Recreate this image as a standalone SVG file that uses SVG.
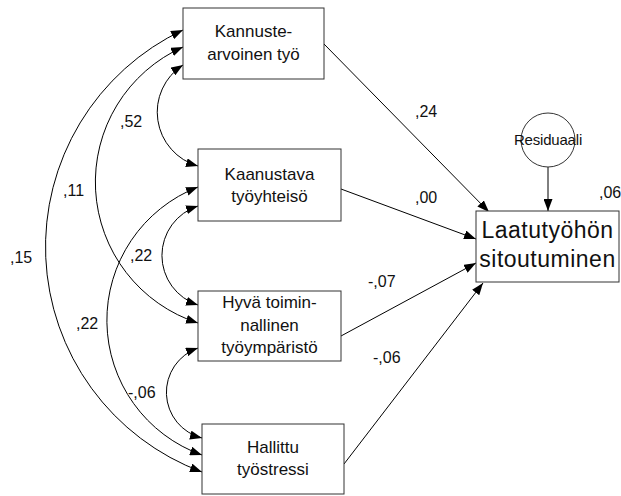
<svg xmlns="http://www.w3.org/2000/svg" width="621" height="496" viewBox="0 0 621 496">
<defs>
<marker id="ah" markerUnits="userSpaceOnUse" markerWidth="13" markerHeight="9" refX="12" refY="4.5" orient="auto-start-reverse">
<path d="M0,0 L12,4.5 L0,9 z" fill="#000"/>
</marker>
<style>
.box{fill:#fff;stroke:#333;stroke-width:1}
.t{font-family:"Liberation Sans",Arial,sans-serif;font-size:17px;fill:#111;text-anchor:middle}
.big{font-family:"Liberation Sans",Arial,sans-serif;font-size:23px;fill:#111;text-anchor:middle;letter-spacing:0.5px}
.lab{font-family:"Liberation Sans",Arial,sans-serif;font-size:16px;fill:#111}
.res{font-family:"Liberation Sans",Arial,sans-serif;font-size:15px;fill:#111;text-anchor:middle;letter-spacing:-0.2px}
.c{fill:none;stroke:#000;stroke-width:1;marker-start:url(#ah);marker-end:url(#ah)}
.s{fill:none;stroke:#000;stroke-width:1;marker-end:url(#ah)}
</style>
</defs>
<rect width="621" height="496" fill="#fff"/>
<g id="connectors">
<path class="c" d="M183,65 A56,56 0 0 0 198,166"/>
<path class="c" d="M183,47 A148,148 0 0 0 198,323"/>
<path class="c" d="M183,30 A240,240 0 0 0 202,472"/>
<path class="c" d="M198,187 A143,143 0 0 0 202,455"/>
<path class="c" d="M198,206 A52,52 0 0 0 198,305"/>
<path class="c" d="M198,348 A47,47 0 0 0 202,438"/>
<path class="s" d="M324,44 L489,212"/>
<path class="s" d="M341,189 L476,239"/>
<path class="s" d="M341,336 L476,263"/>
<path class="s" d="M344,464 L483,283"/>
<path class="s" d="M548,167 L548,211"/>
</g>
<g id="labels">
<text class="lab" x="120" y="127">,52</text>
<text class="lab" x="63" y="196">,11</text>
<text class="lab" x="10" y="263">,15</text>
<text class="lab" x="130" y="261">,22</text>
<text class="lab" x="76" y="329">,22</text>
<text class="lab" x="128" y="398">-,06</text>
<text class="lab" x="415" y="117">,24</text>
<text class="lab" x="415" y="203">,00</text>
<text class="lab" x="368" y="287">-,07</text>
<text class="lab" x="373" y="363">-,06</text>
<text class="lab" x="599" y="198">,06</text>
</g>
<g id="n1">
<rect class="box" x="183" y="8" width="141" height="71"/>
<text class="t" x="253.5" y="37">Kannuste-</text>
<text class="t" x="253.5" y="60">arvoinen työ</text>
</g>
<g id="n2">
<rect class="box" x="198" y="149" width="143" height="72"/>
<text class="t" x="269.5" y="180">Kaanustava</text>
<text class="t" x="269.5" y="202">työyhteisö</text>
</g>
<g id="n3">
<rect class="box" x="198" y="291" width="143" height="70"/>
<text class="t" x="269.5" y="308">Hyvä toimin-</text>
<text class="t" x="269.5" y="331">nallinen</text>
<text class="t" x="269.5" y="353">työympäristö</text>
</g>
<g id="n4">
<rect class="box" x="202" y="424" width="142" height="70"/>
<text class="t" x="273" y="453">Hallittu</text>
<text class="t" x="273" y="475">työstressi</text>
</g>
<g id="n5">
<rect class="box" x="476" y="211" width="143" height="71"/>
<text class="big" x="547.5" y="238">Laatutyöhön</text>
<text class="big" x="547.5" y="267">sitoutuminen</text>
</g>
<g id="n6">
<circle cx="548" cy="140" r="27" fill="#fff" stroke="#333" stroke-width="1"/>
<text class="res" x="548" y="145">Residuaali</text>
</g>
</svg>
